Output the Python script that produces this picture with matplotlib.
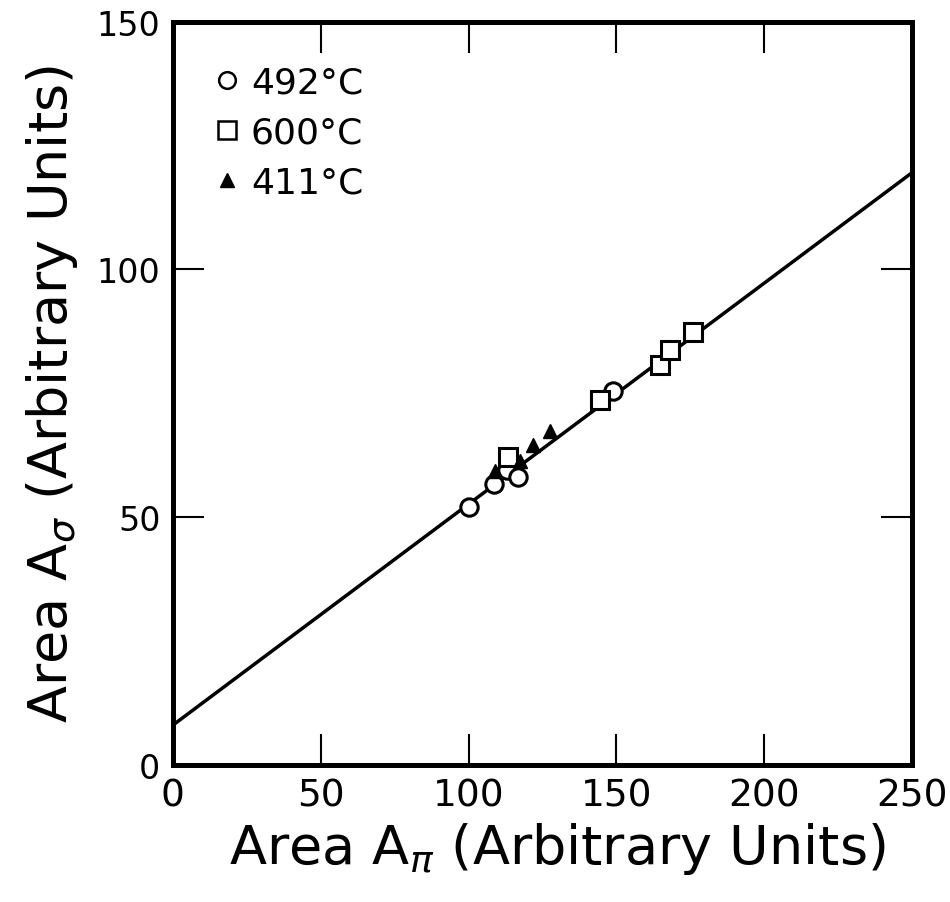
import matplotlib
matplotlib.use("Agg")
import matplotlib.pyplot as plt
from matplotlib.lines import Line2D
import numpy as np

# Data
circ_x = [100.1, 108.6, 113.1, 116.6, 148.8]
circ_y = [52.0, 56.6, 59.5, 58.1, 75.4]
sq_x = [113.5, 144.4, 164.6, 168.2, 176.0]
sq_y = [62.2, 73.6, 80.7, 83.7, 87.3]
tri_x = [109.0, 117.5, 121.7, 127.5]
tri_y = [59.3, 61.3, 64.6, 67.3]
fit_x = [0, 250]
fit_intercept = 8.0
fit_slope = 0.446
labels = ["492°C", "600°C", "411°C"]
xticks = [0, 50, 100, 150, 200, 250]
yticks = [0, 50, 100, 150]

plt.rcParams['font.family'] = ['DejaVu Sans']

fig = plt.figure(figsize=(9.5, 9.03), dpi=100)
ax = fig.add_axes([0.182, 0.152, 0.778, 0.823])

fx = np.array(fit_x, dtype=float)
ax.plot(fx, fit_intercept + fit_slope * fx, color='black', lw=2.5, zorder=2)

ax.plot(circ_x, circ_y, 'o', ms=12.5, mfc='white', mec='black', mew=2.2, ls='none', zorder=3)
ax.plot(sq_x, sq_y, 's', ms=12.5, mfc='white', mec='black', mew=2.2, ls='none', zorder=3)
ax.plot(tri_x, tri_y, '^', ms=10.5, mfc='black', mec='black', mew=1.0, ls='none', zorder=4)

ax.set_xlim(0, 250)
ax.set_ylim(0, 150)
ax.set_xticks(xticks)
ax.set_yticks(yticks)
ax.tick_params(direction='in', length=22, width=1.5, top=True, right=True,
               labelsize=24, pad=9)
ax.tick_params(axis='x', labelsize=27)
for s in ax.spines.values():
    s.set_linewidth(3.6)

ax.set_xlabel(r"Area A$_\pi$ (Arbitrary Units)", fontsize=39, labelpad=8)
ax.set_ylabel(r"Area A$_\sigma$ (Arbitrary Units)", fontsize=39, labelpad=12)
ax.xaxis.set_label_coords(0.52, -0.075)

handles = [
    Line2D([], [], marker='o', ls='none', ms=12, mfc='white', mec='black', mew=1.8),
    Line2D([], [], marker='s', ls='none', ms=13, mfc='white', mec='black', mew=1.8),
    Line2D([], [], marker='^', ls='none', ms=10, mfc='black', mec='black'),
]
ax.legend(handles, labels, loc='upper left', bbox_to_anchor=(0.02, 0.975),
          frameon=False, fontsize=26, handlelength=0.8, handletextpad=0.25,
          labelspacing=0.45, borderpad=0.2)

fig.savefig("out.png", dpi=100)
